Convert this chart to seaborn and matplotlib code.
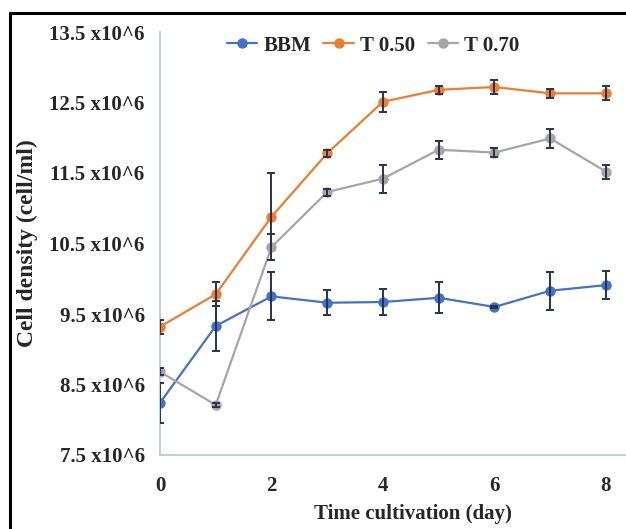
import numpy as np
import matplotlib
matplotlib.use("Agg")
import matplotlib.pyplot as plt
import seaborn as sb
import pandas as pd
from matplotlib.lines import Line2D

# valores (x10^6 celulas/ml)
days = [0, 1, 2, 3, 4, 5, 6, 7, 8]
series_names = ["BBM", "T 0.50", "T 0.70"]
bbm = [8.24, 9.33, 9.75, 9.66, 9.67, 9.73, 9.60, 9.83, 9.91]
bbm_err = [0.28, 0.36, 0.34, 0.18, 0.18, 0.22, 0.02, 0.27, 0.20]
t050 = [9.32, 9.78, 10.88, 11.78, 12.51, 12.68, 12.72, 12.63, 12.63]
t050_err = [0.10, 0.17, 0.62, 0.05, 0.14, 0.06, 0.10, 0.06, 0.10]
t070 = [8.68, 8.21, 10.45, 11.23, 11.42, 11.83, 11.79, 11.99, 11.52]
t070_err = [0.05, 0.03, 0.18, 0.05, 0.20, 0.13, 0.07, 0.13, 0.10]
yticks = [7.5, 8.5, 9.5, 10.5, 11.5, 12.5, 13.5]
xticks = [0, 2, 4, 6, 8]

colors = ["#4472C4", "#ED7D31", "#A5A5A5"]
err_color = "#243450"
spine_color = "#B4C3DD"

df = pd.DataFrame({
    "day": days * 3,
    "density": bbm + t050 + t070,
    "serie": [series_names[0]] * 9 + [series_names[1]] * 9 + [series_names[2]] * 9,
})

sb.set_style("white")
plt.rcParams["font.family"] = ["Liberation Serif", "DejaVu Serif"]
plt.rcParams["font.weight"] = "bold"

fig = plt.figure(figsize=(6.26, 5.29), dpi=100)
ax = fig.add_axes([160 / 626, 1 - 455 / 529, 1 - 160 / 626, (455 - 32) / 529])

sb.lineplot(data=df, x="day", y="density", hue="serie", palette=colors,
            marker="o", markersize=7.5, markeredgewidth=0, linewidth=1.6,
            ax=ax, zorder=2)

for vals, errs in [(bbm, bbm_err), (t050, t050_err), (t070, t070_err)]:
    ax.errorbar(days, vals, yerr=errs, fmt="none", ecolor=err_color,
                elinewidth=1.4, capsize=3, capthick=1.4, zorder=3)

ax.set_xlim(0, 8.36)
ax.set_ylim(7.5, 13.5)
ax.set_xticks(xticks)
ax.set_xticklabels([str(t) for t in xticks], fontsize=15, fontweight="bold")
ax.set_yticks(yticks)
ax.set_yticklabels(["%.1f x10^6" % t for t in yticks], fontsize=15, fontweight="bold")
ax.tick_params(axis="both", length=0)
ax.tick_params(axis="y", pad=11)
ax.tick_params(axis="x", pad=15)

ax.set_xlabel("Time cultivation (day)", fontsize=15, fontweight="bold")
ax.xaxis.set_label_coords(0.543, -0.115)
ax.set_ylabel("Cell density (cell/ml)", fontsize=17, fontweight="bold")
ax.yaxis.set_label_coords(-0.262, 0.5)

for s in ["top", "right"]:
    ax.spines[s].set_visible(False)
for s in ["left", "bottom"]:
    ax.spines[s].set_color(spine_color)
    ax.spines[s].set_linewidth(1.2)

ax.legend(loc="center", bbox_to_anchor=(0.457, 0.968), ncol=3, frameon=False,
          handlelength=1.45, handletextpad=0.3, columnspacing=0.6,
          prop={"size": 15, "weight": "bold"}, borderaxespad=0)

# moldura preta
fig.add_artist(Line2D([10 / 626, 10 / 626], [-0.05, 1 - 13 / 529], color="black", linewidth=2.2))
fig.add_artist(Line2D([10 / 626, 1.05], [1 - 13 / 529, 1 - 13 / 529], color="black", linewidth=2.2))

fig.savefig("out.png", dpi=100)
